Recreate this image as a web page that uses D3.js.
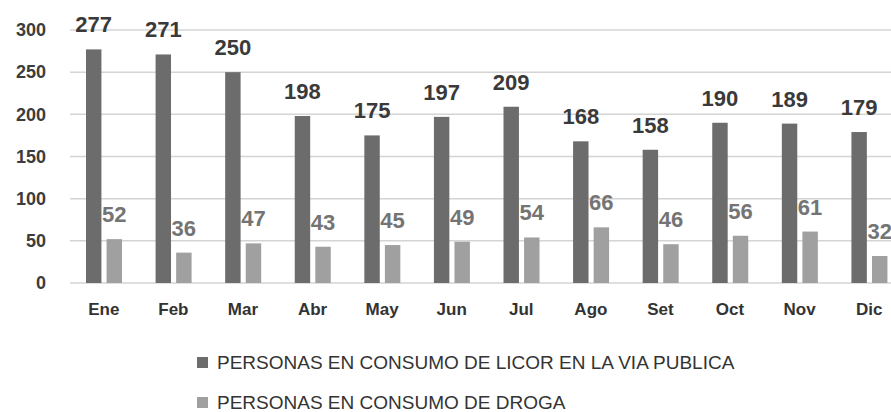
<!DOCTYPE html>
<meta charset="utf-8">
<style>
  body { margin: 0; background: #fff; }
  svg { display: block; }
  .axis path, .axis line { display: none; }
  .grid line { stroke: #d4d4d4; stroke-width: 1.5; }
  text { font-family: "Liberation Sans", Arial, sans-serif; }
</style>
<svg width="891" height="412"></svg>
<script src="https://cdnjs.cloudflare.com/ajax/libs/d3/7.8.5/d3.min.js"></script>
<script>
  var months = ["Ene", "Feb", "Mar", "Abr", "May", "Jun", "Jul", "Ago", "Set", "Oct", "Nov", "Dic"];
  var licor = [277, 271, 250, 198, 175, 197, 209, 168, 158, 190, 189, 179];
  var droga = [52, 36, 47, 43, 45, 49, 54, 66, 46, 56, 61, 32];
  var seriesNames = ["PERSONAS EN CONSUMO DE LICOR EN LA VIA PUBLICA", "PERSONAS EN CONSUMO DE DROGA"];
  var yTicks = [0, 50, 100, 150, 200, 250, 300];

  var barColors = ["#6c6c6c", "#a0a0a0"];
  var labelColors = ["#3a3a3a", "#747474"];

  var svg = d3.select("svg");

  var data = months.map(function(m, i) {
    return { month: m, values: [licor[i], droga[i]] };
  });

  var x = d3.scaleBand()
    .domain(months)
    .range([69, 904]);

  var x1 = d3.scaleBand()
    .domain([0, 1])
    .range([17, 53])
    .paddingInner(0.25);

  var y = d3.scaleLinear()
    .domain([0, 300])
    .range([283, 30]);

  // gridlines
  svg.append("g")
    .attr("class", "grid")
    .selectAll("line")
    .data(yTicks)
    .enter().append("line")
    .attr("x1", 70)
    .attr("x2", 891)
    .attr("y1", function(d) { return y(d); })
    .attr("y2", function(d) { return y(d); });

  // y axis labels
  svg.append("g")
    .attr("class", "axis")
    .attr("transform", "translate(46,0)")
    .call(d3.axisLeft(y).tickValues(yTicks).tickSize(0).tickPadding(0))
    .selectAll("text")
    .attr("font-family", "Liberation Sans, Arial, sans-serif")
    .attr("font-size", 18)
    .attr("font-weight", "bold")
    .attr("fill", "#3c3c3c");

  // x axis labels
  svg.append("g")
    .attr("class", "axis")
    .attr("transform", "translate(0,283)")
    .call(d3.axisBottom(x).tickSize(0).tickPadding(20))
    .selectAll("text")
    .attr("font-family", "Liberation Sans, Arial, sans-serif")
    .attr("font-size", 17)
    .attr("font-weight", "bold")
    .attr("fill", "#333");

  var groups = svg.append("g")
    .selectAll("g")
    .data(data)
    .enter().append("g")
    .attr("transform", function(d) { return "translate(" + x(d.month) + ",0)"; });

  groups.selectAll("rect")
    .data(function(d) { return d.values.map(function(v, k) { return { k: k, v: v }; }); })
    .enter().append("rect")
    .attr("x", function(d) { return x1(d.k); })
    .attr("width", x1.bandwidth())
    .attr("y", function(d) { return y(d.v); })
    .attr("height", function(d) { return y(0) - y(d.v); })
    .attr("fill", function(d) { return barColors[d.k]; });

  groups.selectAll("text.val")
    .data(function(d) { return d.values.map(function(v, k) { return { k: k, v: v }; }); })
    .enter().append("text")
    .attr("class", "val")
    .attr("x", function(d) { return x1(d.k) + x1.bandwidth() / 2; })
    .attr("y", function(d) { return y(d.v) - 17; })
    .attr("text-anchor", "middle")
    .attr("font-size", 22)
    .attr("font-weight", "bold")
    .attr("fill", function(d) { return labelColors[d.k]; })
    .text(function(d) { return d.v; });

  // legend
  var legend = svg.append("g")
    .selectAll("g")
    .data(seriesNames)
    .enter().append("g")
    .attr("transform", function(d, i) { return "translate(197," + (357 + i * 40) + ")"; });

  legend.append("rect")
    .attr("width", 11)
    .attr("height", 11)
    .attr("fill", function(d, i) { return barColors[i]; });

  legend.append("text")
    .attr("x", 20)
    .attr("y", 12)
    .attr("font-size", 19)
    .attr("fill", "#333")
    .text(function(d) { return d; });
</script>
